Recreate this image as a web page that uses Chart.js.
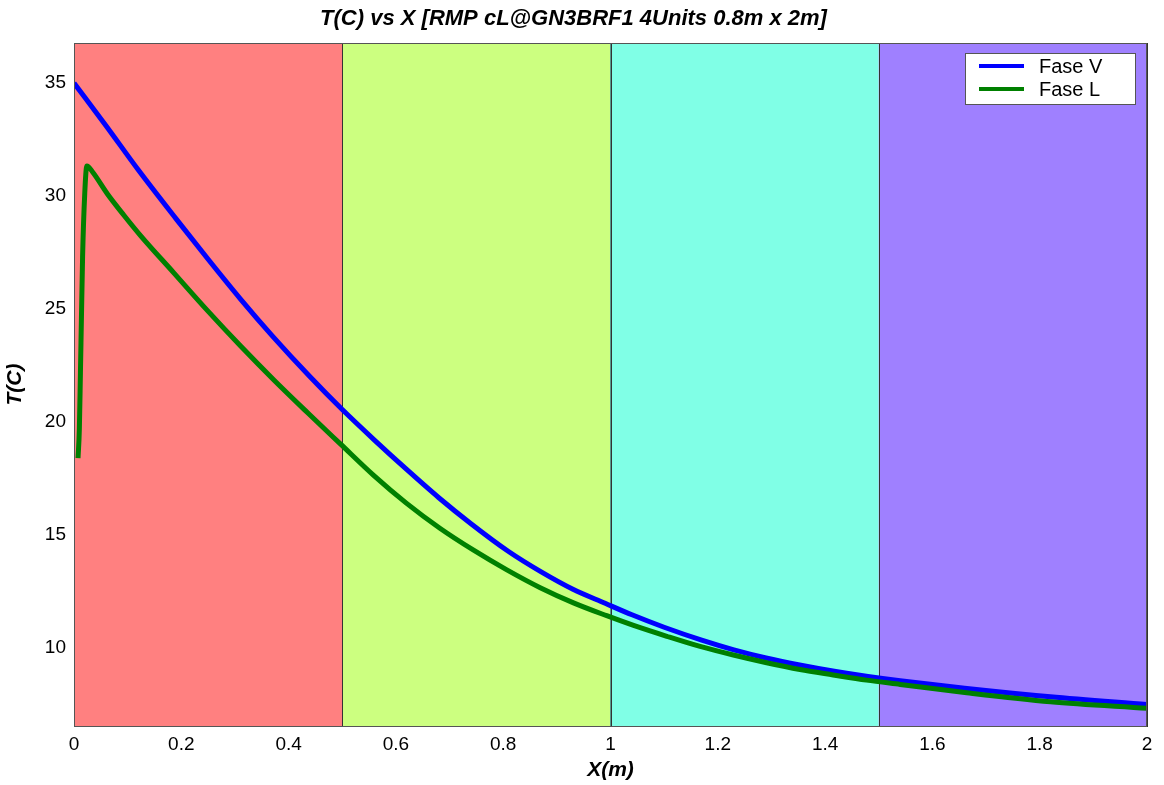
<!DOCTYPE html>
<html>
<head>
<meta charset="utf-8">
<script src="https://cdn.jsdelivr.net/npm/chart.js@4.4.1/dist/chart.umd.min.js"></script>
<style>
  html, body { margin: 0; padding: 0; background: #fff; }
</style>
</head>
<body>
<canvas id="myChart" width="1164" height="785"></canvas>
<script>
// Fase V (vapour) temperature vs position
const xV = [0, 0.06, 0.12, 0.19, 0.25, 0.31, 0.37, 0.44, 0.5, 0.56, 0.62, 0.68, 0.74, 0.81, 0.87, 0.93, 0.99,
            1.04, 1.1, 1.17, 1.23, 1.29, 1.35, 1.42, 1.48, 1.54, 1.66, 1.82, 2.0];
const tV = [35.0, 33.1, 31.15, 29.0, 27.2, 25.45, 23.8, 22.0, 20.55, 19.2, 17.9, 16.65, 15.5, 14.27, 13.38, 12.6, 11.98,
            11.47, 10.92, 10.35, 9.92, 9.56, 9.26, 8.96, 8.74, 8.55, 8.22, 7.84, 7.5];

// Fase L (liquid) temperature vs position
const xL = [0.0075, 0.01, 0.012, 0.014, 0.016, 0.02, 0.024, 0.035, 0.062, 0.093, 0.124, 0.186, 0.248, 0.311, 0.373, 0.435,
            0.497, 0.558, 0.62, 0.682, 0.744, 0.806, 0.869, 0.931, 0.993, 1.043, 1.105, 1.167, 1.229, 1.291, 1.353, 1.415,
            1.477, 1.54, 1.664, 1.82, 2.0];
const tL = [18.4, 19.7, 22.2, 24.8, 27.3, 30.1, 31.33, 31.05, 30.1, 29.15, 28.25, 26.6, 24.95, 23.35, 21.85, 20.42,
            19.02, 17.65, 16.4, 15.3, 14.34, 13.47, 12.67, 12.0, 11.43, 11.0, 10.52, 10.07, 9.69, 9.35, 9.05, 8.81,
            8.58, 8.39, 8.02, 7.62, 7.33];

// Background zones along X
const zoneStart = [0, 0.5, 1, 1.5];
const zoneEnd = [0.5, 1, 1.5, 2];
const zoneColors = ["#FF8080", "#CCFF80", "#80FFE6", "#9F80FF"];

// Tick values
const xTicks = [0, 0.2, 0.4, 0.6, 0.8, 1, 1.2, 1.4, 1.6, 1.8, 2];
const yTicks = [10, 15, 20, 25, 30, 35];

const FONT = "'Liberation Sans', Arial, sans-serif";

// Coloured zones behind the curves
const zonesPlugin = {
  id: 'zonesPlugin',
  beforeDatasetsDraw(chart) {
    const { ctx, chartArea: { top, bottom }, scales: { x } } = chart;
    ctx.save();
    zoneStart.forEach((s, i) => {
      const x0 = x.getPixelForValue(s);
      const x1 = x.getPixelForValue(zoneEnd[i]);
      ctx.fillStyle = zoneColors[i];
      ctx.fillRect(x0, top, x1 - x0, bottom - top);
      ctx.strokeStyle = '#333';
      ctx.lineWidth = 1;
      ctx.strokeRect(Math.round(x0) + 0.5, top + 0.5, Math.round(x1 - x0), bottom - top);
    });
    ctx.restore();
  },
  afterDatasetsDraw(chart) {
    const { ctx, chartArea: { top, bottom, left, right } } = chart;
    ctx.save();
    ctx.strokeStyle = '#555';
    ctx.lineWidth = 1;
    ctx.strokeRect(left + 0.5, top + 0.5, right - left - 1, bottom - top);
    ctx.restore();
  }
};

// Legend box inside the top right corner
const boxLegendPlugin = {
  id: 'boxLegendPlugin',
  afterDraw(chart) {
    const { ctx, chartArea: { top, right } } = chart;
    const w = 170, h = 51;
    const bx = right - 12 - w;
    const by = top + 10;
    ctx.save();
    ctx.fillStyle = '#fff';
    ctx.fillRect(bx, by, w, h);
    ctx.strokeStyle = '#555';
    ctx.lineWidth = 1;
    ctx.strokeRect(bx + 0.5, by + 0.5, w, h);
    ctx.font = '20px ' + FONT;
    ctx.textBaseline = 'middle';
    ctx.textAlign = 'left';
    chart.data.datasets.forEach((ds, i) => {
      const y = by + 13 + i * 23;
      ctx.strokeStyle = ds.borderColor;
      ctx.lineWidth = 4;
      ctx.beginPath();
      ctx.moveTo(bx + 14, y);
      ctx.lineTo(bx + 59, y);
      ctx.stroke();
      ctx.fillStyle = '#000';
      ctx.fillText(ds.label, bx + 74, y + 1);
    });
    ctx.restore();
  }
};

new Chart("myChart", {
  type: "line",
  data: {
    datasets: [{
      label: "Fase V",
      data: xV.map((v, i) => ({ x: v, y: tV[i] })),
      borderColor: "#0000FF",
      borderWidth: 5,
      pointRadius: 0,
      cubicInterpolationMode: 'monotone',
      order: 1
    }, {
      label: "Fase L",
      data: xL.map((v, i) => ({ x: v, y: tL[i] })),
      borderColor: "#008000",
      borderWidth: 5,
      pointRadius: 0,
      cubicInterpolationMode: 'monotone',
      order: 0
    }]
  },
  options: {
    responsive: false,
    animation: false,
    devicePixelRatio: 1,
    layout: { padding: { left: 0, right: 17, top: 0, bottom: 0 } },
    plugins: {
      legend: { display: false },
      tooltip: { enabled: false },
      title: {
        display: true,
        text: "T(C) vs X [RMP cL@GN3BRF1 4Units 0.8m x 2m]",
        color: '#000',
        font: { family: FONT, size: 22, weight: 'bold', style: 'italic' },
        padding: { top: 6, bottom: 10.6 }
      }
    },
    scales: {
      x: {
        type: 'linear',
        min: 0,
        max: 2,
        grid: { display: false, drawTicks: false },
        border: { display: false },
        afterBuildTicks(scale) { scale.ticks = xTicks.map(v => ({ value: v })); },
        afterFit(scale) { scale.height = 59; },
        ticks: {
          color: '#000',
          padding: 7,
          maxRotation: 0,
          autoSkip: false,
          font: { family: FONT, size: 19 },
          callback: v => String(v)
        },
        title: {
          display: true,
          text: "X(m)",
          color: '#000',
          font: { family: FONT, size: 21, weight: 'bold', style: 'italic' },
          padding: { top: 0, bottom: 2 }
        }
      },
      y: {
        type: 'linear',
        min: 6.55,
        max: 36.77,
        grid: { display: false, drawTicks: false },
        border: { display: false },
        afterBuildTicks(scale) { scale.ticks = yTicks.map(v => ({ value: v })); },
        afterFit(scale) { scale.width = 74; },
        ticks: {
          color: '#000',
          padding: 8,
          autoSkip: false,
          font: { family: FONT, size: 19 },
          callback: v => String(v)
        },
        title: {
          display: true,
          text: "T(C)",
          color: '#000',
          font: { family: FONT, size: 21, weight: 'bold', style: 'italic' },
          padding: { top: 3, bottom: 0 }
        }
      }
    }
  },
  plugins: [zonesPlugin, boxLegendPlugin]
});
</script>
</body>
</html>
